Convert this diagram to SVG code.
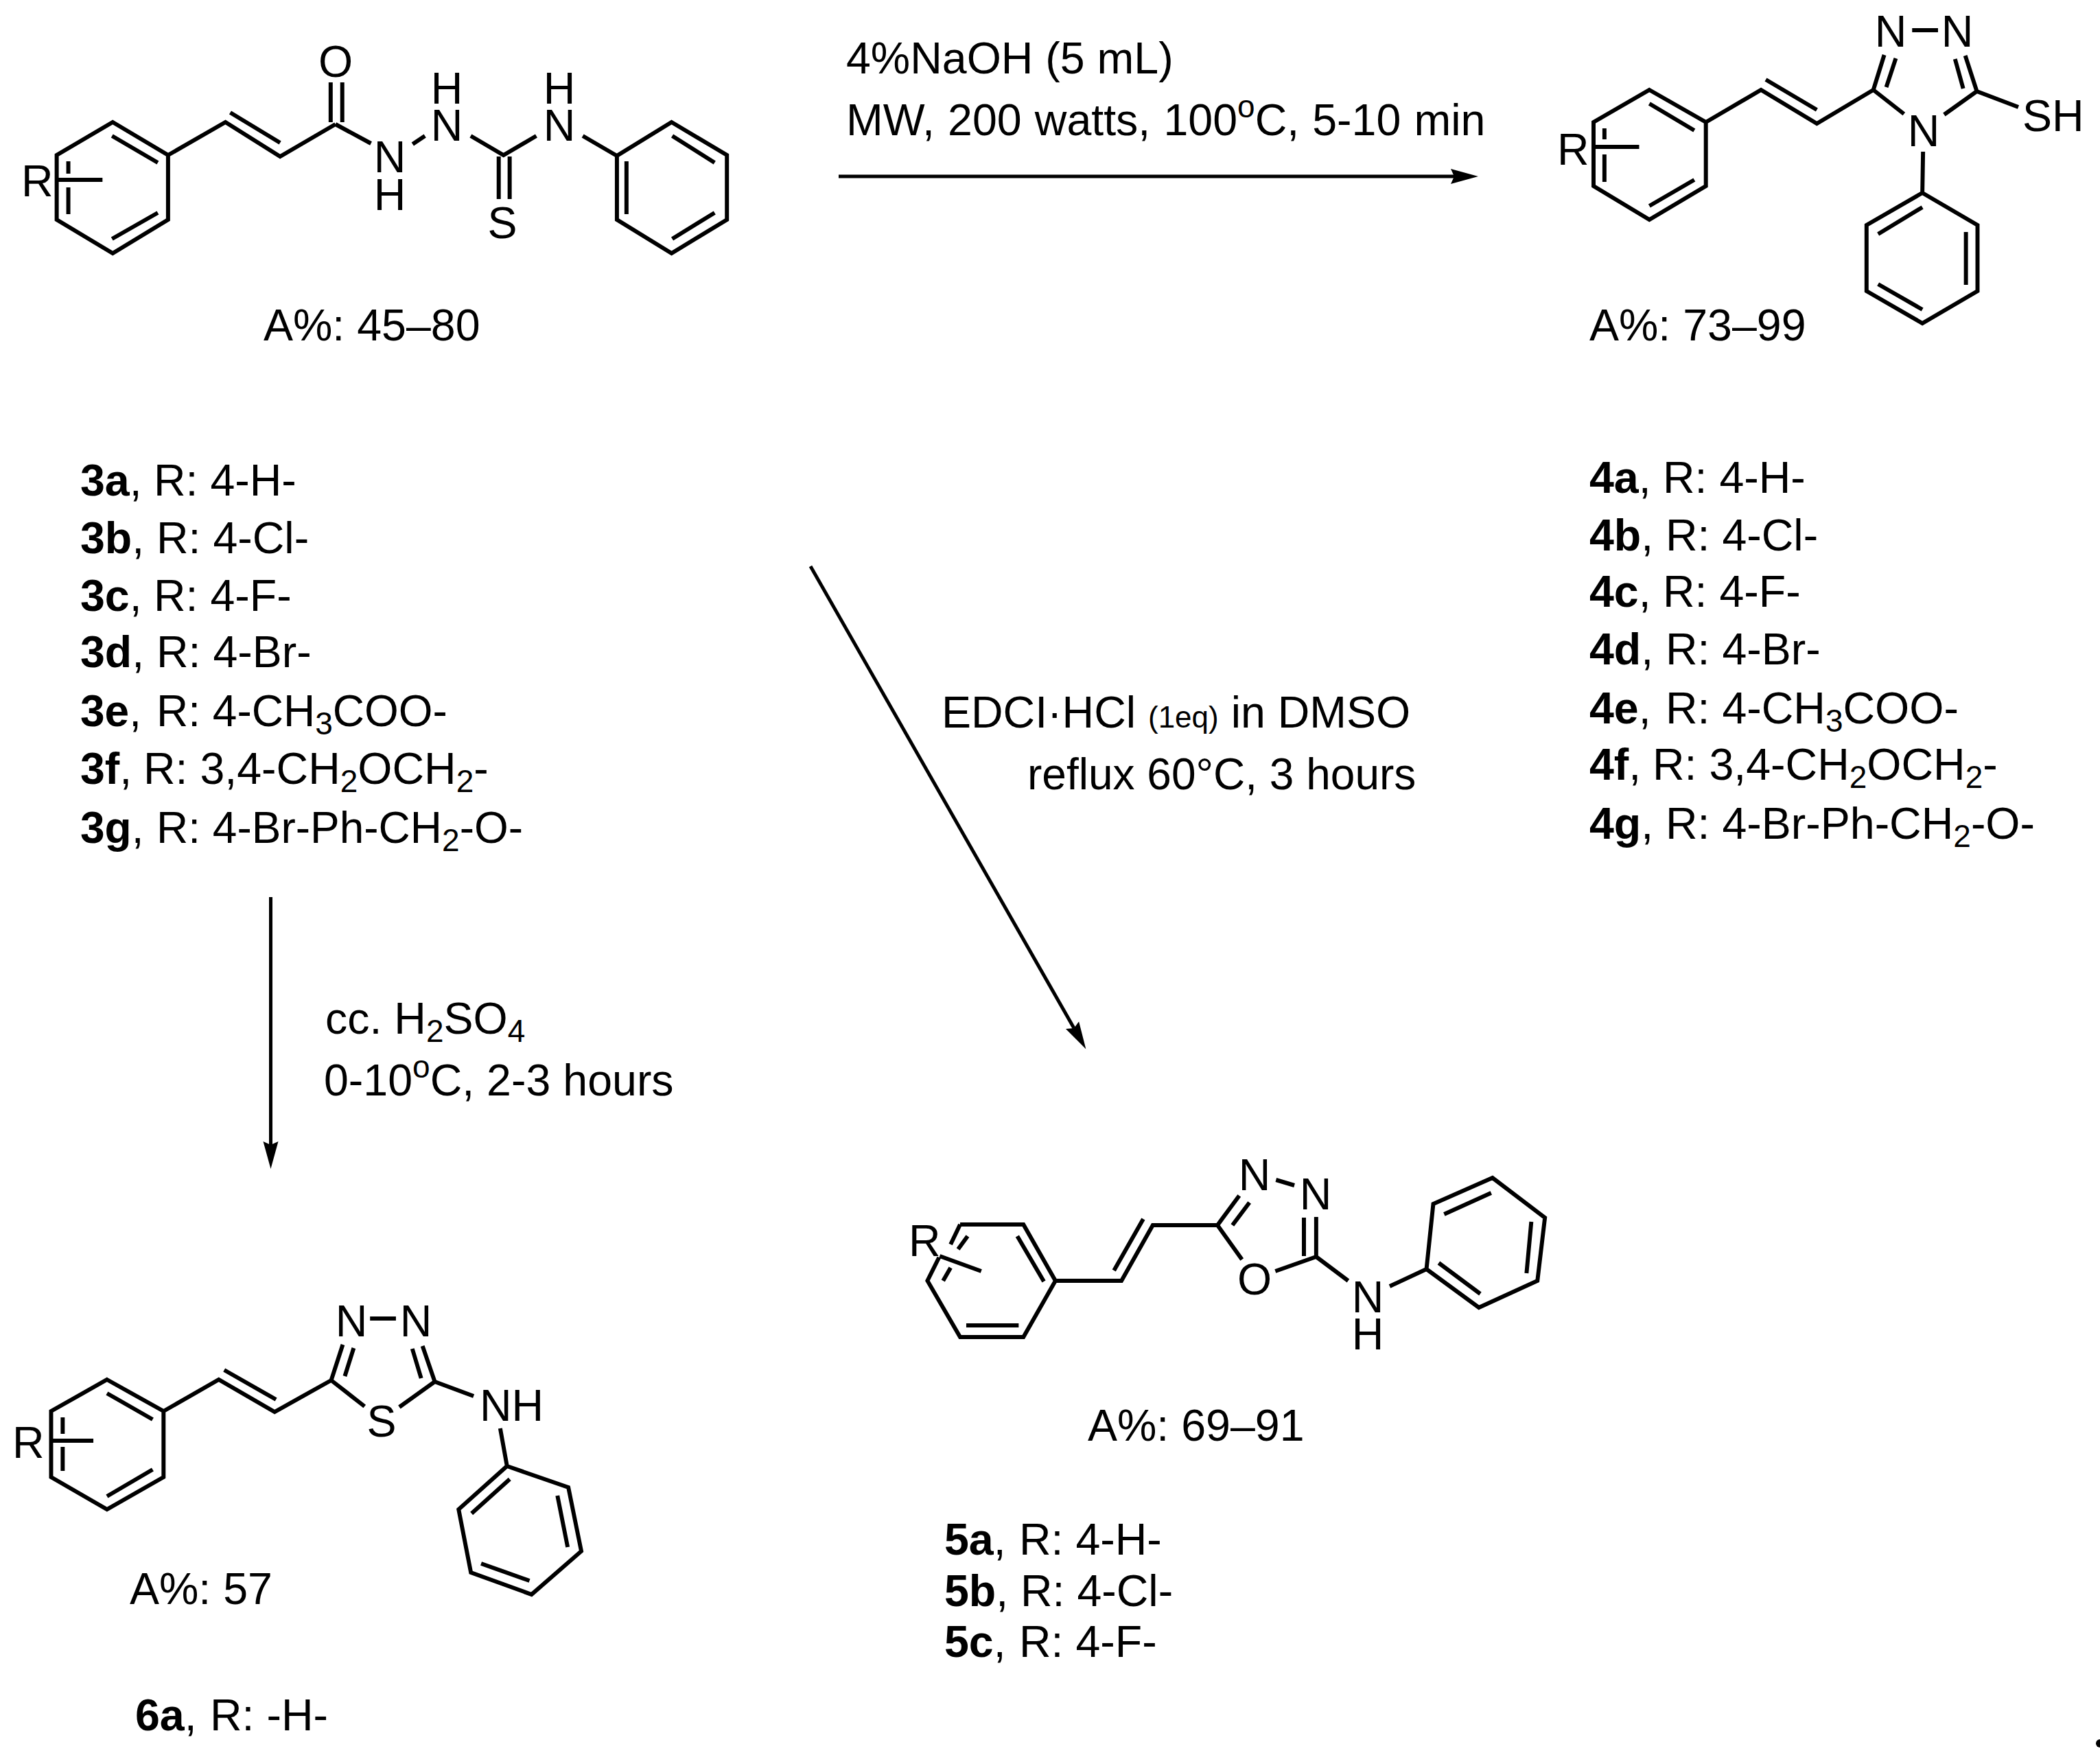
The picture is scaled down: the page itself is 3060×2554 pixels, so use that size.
<svg xmlns="http://www.w3.org/2000/svg" width="3060" height="2554" viewBox="0 0 3060 2554">
<style>
text{font-family:"Liberation Sans",Arial,sans-serif;font-size:64.5px;fill:#000}
.b{font-weight:bold}
.s{font-size:46px}
.sm{font-size:44px}
.n{font-size:64px}
.l{text-anchor:middle}
.bond{fill:none;stroke:#000;stroke-width:6;stroke-linejoin:miter;stroke-linecap:butt}
.arr{fill:none;stroke:#000;stroke-width:5}
</style>
<defs>
<marker id="ah" markerUnits="userSpaceOnUse" markerWidth="42" markerHeight="24" refX="5" refY="12" orient="auto">
<path d="M0 1 L40 12 L0 23 L5 12 Z" fill="#000"/>
</marker>
</defs>
<rect width="3060" height="2554" fill="#fff"/>
<g id="compound-3">
<path class="bond" transform="scale(.9955,1)" d="M165 178L246 226V320L165 369L83 320V226ZM164 198L231 237M231 310L164 348M100 235V253M100 273V312M85 262H150M246 226L330 178L410 228L491 181M337 164L410 208M484 120V178M501 120V178M491 181L543 209M604 210L622 198M689 198L737 226L785 198M853 198L903 227M730 228V290M746 228V290M983 178L1064 226V320L983 369L903 320V227ZM984 198L1046 237M1046 310L984 348M917 235V312"/>
<text x="31" y="286">R</text>
<text class="l" x="489" y="112">O</text>
<text class="l" x="568" y="251">N<tspan x="568" dy="55">H</tspan></text>
<text class="l" x="651" y="151">H<tspan x="651" dy="54">N</tspan></text>
<text class="l" x="815" y="151">H<tspan x="815" dy="54">N</tspan></text>
<text class="l" x="732" y="347">S</text>
<text x="384" y="496">A%: 45–80</text>
<text x="117" y="722"><tspan class="b">3a</tspan>, <tspan x="224">R: 4-H-</tspan></text>
<text x="117" y="806"><tspan class="b">3b</tspan>, <tspan x="228">R: 4-Cl-</tspan></text>
<text x="117" y="890"><tspan class="b">3c</tspan>, <tspan x="224">R: 4-F-</tspan></text>
<text x="117" y="972"><tspan class="b">3d</tspan>, <tspan x="228">R: 4-Br-</tspan></text>
<text class="n" x="117" y="1058"><tspan class="b">3e</tspan>, <tspan x="228">R: 4-CH</tspan><tspan class="s" dy="12">3</tspan><tspan dy="-12">COO-</tspan></text>
<text x="117" y="1142"><tspan class="b">3f</tspan>, <tspan x="209">R: 3,4-CH</tspan><tspan class="s" dy="12">2</tspan><tspan dy="-12">OCH</tspan><tspan class="s" dy="12">2</tspan><tspan dy="-12">-</tspan></text>
<text class="n" x="117" y="1228"><tspan class="b">3g</tspan>, <tspan x="228">R: 4-Br-Ph-CH</tspan><tspan class="s" dy="12">2</tspan><tspan dy="-12">-O-</tspan></text>
</g>
<g id="compound-4">
<path class="bond" transform="translate(2200,0) scale(.992,1) translate(-2200,0)" d="M2405 131L2488 178V271L2405 320L2323 271V178ZM2405 151L2471 190M2471 262L2405 300M2339 187V203M2339 225V265M2324 214H2390M2488 178L2569 131L2651 180L2734 131M2576 116L2651 160M2734 131L2750 80M2753 127L2767 85M2791 44H2829M2869 81L2886 133M2854 86L2866 129M2886 133L2947 156M2886 133L2838 167M2734 131L2779 166M2807 221L2806 281M2806 281L2887 328V424L2806 471L2724 424V328ZM2741 341L2806 302M2870 338V415M2741 414L2806 451"/>
<text x="2269" y="240">R</text>
<text class="l" x="2755" y="68">N</text><text class="l" x="2852" y="68">N</text>
<text x="2947" y="191">SH</text>
<text class="l" x="2803" y="213">N</text>
<text x="2316" y="496">A%: 73–99</text>
<text x="2316" y="718"><tspan class="b">4a</tspan>, <tspan x="2423">R: 4-H-</tspan></text>
<text x="2316" y="802"><tspan class="b">4b</tspan>, <tspan x="2427">R: 4-Cl-</tspan></text>
<text x="2316" y="884"><tspan class="b">4c</tspan>, <tspan x="2423">R: 4-F-</tspan></text>
<text x="2316" y="968"><tspan class="b">4d</tspan>, <tspan x="2427">R: 4-Br-</tspan></text>
<text x="2316" y="1054"><tspan class="b">4e</tspan>, <tspan x="2427">R: 4-CH</tspan><tspan class="s" dy="12">3</tspan><tspan dy="-12">COO-</tspan></text>
<text x="2316" y="1136"><tspan class="b">4f</tspan>, <tspan x="2408">R: 3,4-CH</tspan><tspan class="s" dy="12">2</tspan><tspan dy="-12">OCH</tspan><tspan class="s" dy="12">2</tspan><tspan dy="-12">-</tspan></text>
<text x="2316" y="1222"><tspan class="b">4g</tspan>, <tspan x="2427">R: 4-Br-Ph-CH</tspan><tspan class="s" dy="12">2</tspan><tspan dy="-12">-O-</tspan></text>
</g>
<g id="compound-5">
<path class="bond" transform="translate(1280,0) scale(.992,1) translate(-1280,0)" d="M1400 1784H1493L1540 1866L1493 1948H1400L1352 1866L1369 1832M1386 1813L1400 1784M1484 1801L1523 1867M1486 1931H1409M1375 1866L1386 1847M1397 1820L1411 1801M1370 1830L1431 1852M1540 1866H1637L1683 1785H1778M1626 1851L1669 1776M1778 1785L1810 1742M1800 1785L1825 1752M1864 1719L1891 1727M1905 1774V1830M1923 1773V1831M1778 1785L1814 1835M1923 1831L1863 1852M1923 1831L1970 1866M2031 1874L2085 1849M2085 1849L2095 1754L2182 1716L2259 1774L2248 1866L2162 1905ZM2111 1769L2180 1738M2239 1780L2232 1855M2164 1885L2103 1840"/>
<text x="1324" y="1830">R</text>
<text class="l" x="1828" y="1734">N</text><text class="l" x="1917" y="1762">N</text>
<text class="l" x="1828" y="1886">O</text>
<text class="l" x="1993" y="1912">N<tspan x="1993" dy="54">H</tspan></text>
<text x="1585" y="2099">A%: 69–91</text>
<text x="1376" y="2265"><tspan class="b">5a</tspan>, <tspan x="1485">R: 4-H-</tspan></text>
<text x="1376" y="2340"><tspan class="b">5b</tspan>, <tspan x="1487">R: 4-Cl-</tspan></text>
<text x="1376" y="2414"><tspan class="b">5c</tspan>, <tspan x="1485">R: 4-F-</tspan></text>
</g>
<g id="compound-6">
<path class="bond" transform="scale(.993,1)" d="M157 2010L240 2056V2152L157 2199L75 2152V2056ZM157 2030L224 2068M224 2141L157 2180M92 2065V2089M92 2108V2143M72 2099H137M240 2056L321 2010L403 2057L486 2011M329 1996L405 2039M486 2011L503 1959M506 2005L519 1964M543 1921H581M620 1961L638 2013M605 1965L618 2008M486 2011L535 2049M638 2013L586 2050M638 2013L695 2034M734 2081L744 2136M744 2136L834 2167L853 2260L780 2323L691 2291L673 2199ZM748 2155L692 2205M818 2179L833 2254M777 2303L706 2278"/>
<text x="18" y="2124">R</text>
<text class="l" x="512" y="1947">N</text><text class="l" x="606" y="1947">N</text>
<text class="l" x="556" y="2093">S</text>
<text x="699" y="2070">NH</text>
<text x="189" y="2337">A%: 57</text>
<text x="197" y="2521"><tspan class="b">6a</tspan>, <tspan x="306">R: -H-</tspan></text>
</g>
<g id="connectors">
<path class="arr" marker-end="url(#ah)" d="M1222 257H2119"/>
<path class="arr" marker-end="url(#ah)" d="M1181 825L1565 1498"/>
<path class="arr" marker-end="url(#ah)" d="M394.5 1307V1668"/>
</g>
<g id="conditions">
<text x="1233" y="107">4%NaOH (5 mL)</text>
<text x="1233" y="197" word-spacing="1.2">MW, 200 watts, 100<tspan class="s" dy="-26">o</tspan><tspan dy="26">C, 5-10 min</tspan></text>
<text x="1372" y="1060">EDCI·HCl <tspan class="sm">(1eq)</tspan> in DMSO</text>
<text class="n" x="1497" y="1150">reflux 60°C, 3 hours</text>
<text x="474" y="1506">cc. H<tspan class="s" dy="12">2</tspan><tspan dy="-12">SO</tspan><tspan class="s" dy="12">4</tspan></text>
<text x="472" y="1596">0-10<tspan class="s" dy="-26">o</tspan><tspan dy="26">C, 2-3 hours</tspan></text>
</g>
<circle cx="3060" cy="2540" r="6" fill="#000"/>
</svg>
